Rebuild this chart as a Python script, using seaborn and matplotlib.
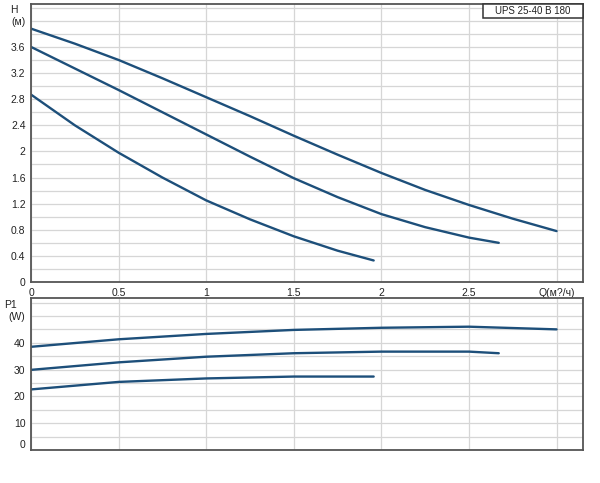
import numpy as np
import pandas as pd
import matplotlib.pyplot as plt
from matplotlib.patches import Rectangle
from matplotlib.ticker import MultipleLocator
import seaborn as sns

# --- data ---
q_hi = [0, 0.25, 0.5, 0.75, 1.0, 1.25, 1.5, 1.75, 2.0, 2.25, 2.5, 2.75, 3.0]
h_hi = [3.88, 3.65, 3.40, 3.12, 2.83, 2.54, 2.24, 1.95, 1.67, 1.41, 1.18, 0.97, 0.78]
q_mid = [0, 0.25, 0.5, 0.75, 1.0, 1.25, 1.5, 1.75, 2.0, 2.25, 2.5, 2.67]
h_mid = [3.60, 3.27, 2.94, 2.60, 2.26, 1.92, 1.59, 1.30, 1.04, 0.84, 0.68, 0.60]
q_lo = [0, 0.25, 0.5, 0.75, 1.0, 1.25, 1.5, 1.75, 1.956]
h_lo = [2.87, 2.40, 1.98, 1.60, 1.25, 0.96, 0.70, 0.48, 0.33]

pq_hi = [0, 0.5, 1.0, 1.5, 2.0, 2.5, 3.0]
p_hi = [38.5, 41.3, 43.3, 44.8, 45.6, 46.0, 45.0]
pq_mid = [0, 0.5, 1.0, 1.5, 2.0, 2.5, 2.67]
p_mid = [29.9, 32.7, 34.8, 36.1, 36.7, 36.7, 36.1]
pq_lo = [0, 0.5, 1.0, 1.5, 1.956]
p_lo = [22.6, 25.4, 26.7, 27.4, 27.4]

x_ticks = [0, 0.5, 1, 1.5, 2, 2.5, 3]
x_labels = ['0', '0.5', '1', '1.5', '2', '2.5', 'Q(м?/ч)']
h_ticks = [0, 0.4, 0.8, 1.2, 1.6, 2, 2.4, 2.8, 3.2, 3.6, 4.0]
h_labels = ['0', '0.4', '0.8', '1.2', '1.6', '2', '2.4', '2.8', '3.2', '3.6', '(м)']
p_ticks = [0, 10, 20, 30, 40, 50]
p_labels = ['0', '10', '20', '30', '40', '(W)']
title = 'UPS 25-40 B 180'

def frame(qs, vs):
    parts = []
    for i, (q, v) in enumerate(zip(qs, vs)):
        parts.append(pd.DataFrame({'Q': q, 'v': v, 'curve': i}))
    return pd.concat(parts)

head = frame([q_hi, q_mid, q_lo], [h_hi, h_mid, h_lo])
power = frame([pq_hi, pq_mid, pq_lo], [p_hi, p_mid, p_lo])

sns.set_style('whitegrid')
plt.rcParams['font.family'] = ['Liberation Sans', 'DejaVu Sans']

line_color = '#1d4f7a'
grid_color = '#d6d6d6'

fig = plt.figure(figsize=(6, 4.83), dpi=100)
ax1 = fig.add_axes([0.0517, 0.4161, 0.92, 0.5756])
ax2 = fig.add_axes([0.0517, 0.0683, 0.92, 0.3147])

for ax, df in ((ax1, head), (ax2, power)):
    sns.lineplot(data=df, x='Q', y='v', units='curve', estimator=None,
                 color=line_color, linewidth=1.7, sort=False, ax=ax)
    ax.set_xlim(0, 3.151)
    ax.set_xticks(x_ticks)
    ax.set_xlabel('')
    ax.set_ylabel('')
    ax.grid(True, which='both', color=grid_color, linewidth=0.9)
    ax.tick_params(length=0, labelsize=7.5, colors='#222222', pad=4)
    for s in ax.spines.values():
        s.set_color('#555555')
        s.set_linewidth(1.3)

ax1.set_ylim(0, 4.257)
ax1.set_yticks(h_ticks)
ax1.set_yticklabels(h_labels)
ax1.yaxis.set_minor_locator(MultipleLocator(0.2))
ax1.set_xticklabels(x_labels)
ax1.text(-0.025, 4.17, 'H', transform=ax1.get_yaxis_transform(),
         ha='right', va='center', fontsize=7.5, color='#222222')

ax2.set_ylim(0, 56.7)
ax2.set_yticks(p_ticks)
ax2.set_yticklabels(p_labels)
ax2.yaxis.set_minor_locator(MultipleLocator(5))
ax2.set_xticklabels([])
ax2.get_yticklabels()[0].set_verticalalignment('bottom')
ax2.text(-0.025, 54.2, 'P1', transform=ax2.get_yaxis_transform(),
         ha='right', va='center', fontsize=7.5, color='#222222')

# model name box in the top right corner
ax1.add_patch(Rectangle((0.819, 0.95), 0.181, 0.05, transform=ax1.transAxes,
                        facecolor='white', edgecolor='#333333', lw=1.1,
                        zorder=5, clip_on=False))
ax1.text(0.9095, 0.975, title, transform=ax1.transAxes, ha='center',
         va='center', fontsize=7, color='#222222', zorder=6)

fig.savefig('out.png', dpi=100)
